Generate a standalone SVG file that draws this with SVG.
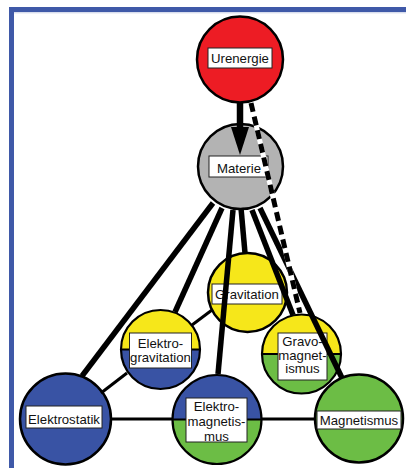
<svg xmlns="http://www.w3.org/2000/svg" width="406" height="468" viewBox="0 0 406 468">
<style>
.c{stroke:#000;stroke-width:2.5}
.d{stroke:#000;stroke-width:2.2;fill:none}
.lb{fill:#fff;stroke:#222;stroke-width:1}
text{font-family:"Liberation Sans",Arial,sans-serif;font-size:13.2px;fill:#111;text-anchor:middle}
.thick{stroke:#000;stroke-width:5.5;fill:none}
.thin{stroke:#000;stroke-width:3;fill:none}
</style>
<rect x="0" y="0" width="406" height="468" fill="#fff"/>
<rect x="11.5" y="9.5" width="500" height="500" fill="none" stroke="#3f59a8" stroke-width="5"/>
<line x1="14" y1="12.8" x2="406" y2="12.8" stroke="#c8cfe6" stroke-width="1"/>

<g id="urenergie">
<circle class="c" cx="240" cy="59.5" r="43" fill="#ed1c24"/>
<rect class="lb" x="208" y="48" width="64" height="20"/>
<text x="240" y="62.5">Urenergie</text>
</g>
<g id="materie">
<circle class="c" cx="240.5" cy="166.5" r="42.5" fill="#b3b3b3"/>
<rect class="lb" x="209" y="156" width="59" height="21"/>
<text x="239" y="173">Materie</text>
</g>
<g id="gravitation">
<circle class="c" cx="247.5" cy="292.5" r="39.5" fill="#f6e71a"/>
<rect class="lb" x="212" y="284" width="70" height="20"/>
<text x="247" y="299">Gravitation</text>
</g>
<g id="elektrogravitation">
<path d="M121,349.5 A39.5,39.5 0 0 1 200,349.5 Z" fill="#f6e71a"/>
<path d="M121,349.5 A39.5,39.5 0 0 0 200,349.5 Z" fill="#3953a4"/>
<line class="d" x1="121" y1="349.5" x2="200" y2="349.5"/>
<circle class="d" cx="160.5" cy="349.5" r="39.5" stroke-width="2.5"/>
<rect class="lb" x="129.5" y="333" width="62" height="35"/>
<text x="160.5" y="348.3">Elektro-</text>
<text x="160.5" y="362">gravitation</text>
</g>
<g id="gravomagnetismus">
<path d="M262,354 A39.5,39.5 0 0 1 341,354 Z" fill="#f6e71a"/>
<path d="M262,354 A39.5,39.5 0 0 0 341,354 Z" fill="#6cbd45"/>
<line class="d" x1="262" y1="354" x2="341" y2="354"/>
<circle class="d" cx="301.5" cy="354" r="39.5" stroke-width="2.5"/>
<rect class="lb" x="278" y="333" width="49" height="47"/>
<text x="302.5" y="346">Gravo-</text>
<text x="302.5" y="359.5">magnet-</text>
<text x="302.5" y="373">ismus</text>
</g>
<g id="elektrostatik">
<circle class="c" cx="65.5" cy="419" r="45.5" fill="#3953a4"/>
<rect class="lb" x="26" y="406" width="76" height="22"/>
<text x="64" y="424">Elektrostatik</text>
</g>
<g id="elektromagnetismus">
<path d="M172.5,419.5 A44.5,44.5 0 0 1 261.5,419.5 Z" fill="#3953a4"/>
<path d="M172.5,419.5 A44.5,44.5 0 0 0 261.5,419.5 Z" fill="#6cbd45"/>
<line class="d" x1="172.5" y1="419.5" x2="261.5" y2="419.5" stroke-width="3"/>
<circle class="d" cx="217" cy="419.5" r="44.5" stroke-width="2.5"/>
<rect class="lb" x="186" y="398" width="61" height="44"/>
<text x="216.5" y="411">Elektro-</text>
<text x="216.5" y="426">magnetis-</text>
<text x="216.5" y="441">mus</text>
</g>
<g id="magnetismus">
<circle class="c" cx="359" cy="418.5" r="44" fill="#6cbd45"/>
<rect class="lb" x="317" y="411" width="84" height="18"/>
<text x="359" y="425">Magnetismus</text>
</g>

<g id="connectors">
<line class="thick" x1="213" y1="203" x2="82" y2="376"/>
<line class="thick" x1="222" y1="208" x2="175" y2="312"/>
<line class="thick" x1="233" y1="210" x2="218" y2="374"/>
<line class="thick" x1="241" y1="208" x2="245" y2="253"/>
<line class="thick" x1="252" y1="210" x2="293" y2="315"/>
<line class="thick" x1="260" y1="208" x2="342" y2="378"/>
<line class="thin" x1="212" y1="310" x2="192" y2="325"/>
<line class="thin" x1="127" y1="373" x2="101" y2="393"/>
<line class="thin" x1="111" y1="419" x2="172" y2="419"/>
<line class="thin" x1="262" y1="419" x2="315" y2="419"/>
<line x1="240" y1="102" x2="240" y2="130" stroke="#000" stroke-width="6.5"/>
<polygon points="231,127 249,127 240,155" fill="#000"/>
<line x1="251" y1="103" x2="300" y2="313" stroke="#fff" stroke-width="5"/>
<line x1="251" y1="103" x2="300" y2="313" stroke="#000" stroke-width="5" stroke-dasharray="9,5"/>
</g>
</svg>
